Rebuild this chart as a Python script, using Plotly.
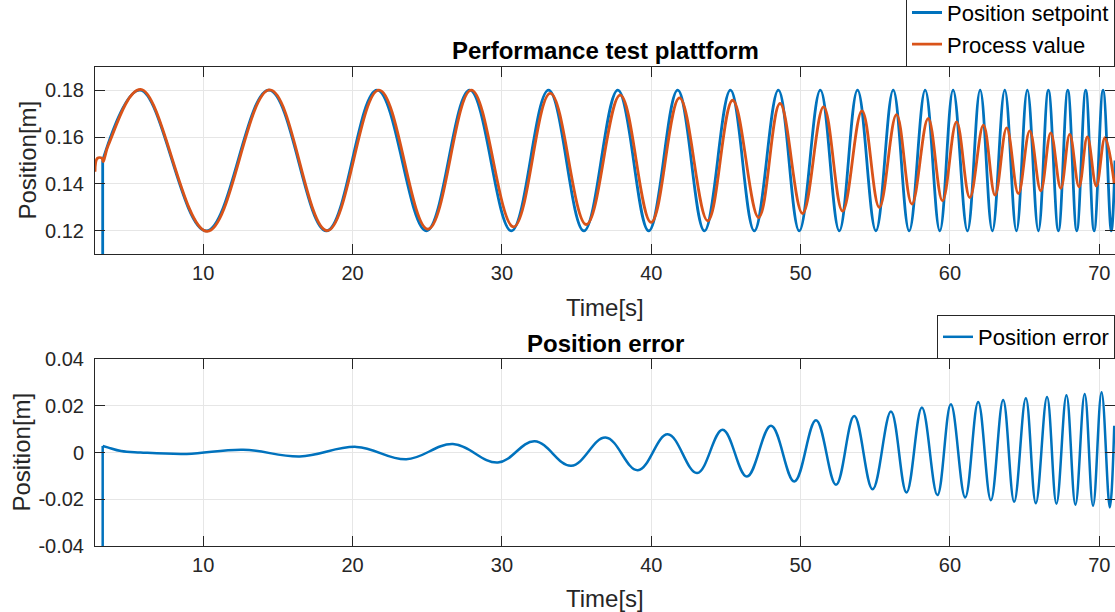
import plotly.graph_objects as go

# ---------------- data ----------------
# Position setpoint: start of the chirp, then alternating peaks / troughs
setpoint_t = [3.27, 5.77, 10.2, 14.4, 18.25, 21.64, 24.94, 27.84, 30.63, 33.12, 35.49,
              37.76, 39.83, 41.77, 43.56, 45.30, 46.9, 48.51, 49.91, 51.32, 52.59,
              53.81, 55.04, 56.2, 57.27, 58.34, 59.32, 60.21, 61.17, 62.02, 62.84,
              63.67, 64.45, 65.18, 65.92, 66.59, 67.26, 67.89, 68.49, 69.09, 69.65,
              70.25, 70.8, 71.05]
setpoint_v = [0.15, 0.18, 0.12, 0.18, 0.12, 0.18, 0.12, 0.18, 0.12, 0.18, 0.12,
              0.18, 0.12, 0.18, 0.12, 0.18, 0.12, 0.18, 0.12, 0.18, 0.12,
              0.18, 0.12, 0.18, 0.12, 0.18, 0.12, 0.18, 0.12, 0.18, 0.12,
              0.18, 0.12, 0.18, 0.12, 0.18, 0.12, 0.18, 0.12, 0.18, 0.12,
              0.18, 0.12, 0.15]
# setpoint step at start (from off-scale up to the chirp start)
setpoint_step_t = [2.755, 3.27, 3.27]
setpoint_step_v = [0.0, 0.0, 0.15]

# Process value
process_t = [2.755, 2.91, 3.22, 3.3, 3.65, 5.81, 10.27, 14.46, 18.3, 21.77, 25.05,
             27.95, 30.78, 33.24, 35.65, 37.92, 39.99, 41.89, 43.78, 45.45, 47.19,
             48.62, 50.13, 51.54, 52.81, 54.11, 55.27, 56.42, 57.45, 58.54, 59.5,
             60.44, 61.33, 62.24, 63.02, 63.8, 64.58, 65.34, 66.08, 66.75, 67.42,
             68.02, 68.64, 69.2, 69.8, 70.38, 71.0]
process_v = [0.1452, 0.1509, 0.151, 0.1495, 0.1566, 0.1803, 0.1198, 0.1801, 0.1201, 0.18, 0.1207,
             0.18, 0.1217, 0.1786, 0.1227, 0.1779, 0.1236, 0.1767, 0.1243, 0.1757, 0.1257,
             0.1743, 0.1274, 0.1729, 0.1284, 0.1712, 0.130, 0.1696, 0.1314, 0.1679, 0.1328,
             0.1665, 0.1342, 0.1651, 0.1352, 0.1639, 0.1359, 0.1626, 0.1371, 0.1618, 0.1381,
             0.1611, 0.1388, 0.1601, 0.1391, 0.1597, 0.1402]

# Position error
error_t = [3.27, 3.6, 4.5, 5.8, 8.9, 12.68, 16.47, 20.26, 23.6, 26.72, 29.73, 32.19,
           34.64, 36.94, 39.1, 41.1, 43.07, 44.78, 46.4, 48.02, 49.58, 51.03, 52.37,
           53.59, 54.82, 56.05, 57.09, 58.12, 59.16, 60.06, 61.02, 61.89, 62.74,
           63.56, 64.3, 65.08, 65.75, 66.5, 67.13, 67.8, 68.4, 69.02, 69.58, 70.15,
           70.7, 71.0]
error_v = [0.0028, 0.0022, 0.0006, 0.0, -0.0006, 0.0012, -0.0017, 0.0024, -0.0029, 0.0036,
           -0.0043, 0.0048, -0.0057, 0.0064, -0.0076, 0.0078, -0.0088, 0.0097, -0.0103,
           0.0114, -0.0124, 0.0138, -0.0138, 0.0156, -0.0157, 0.0175, -0.0171, 0.0192,
           -0.0182, 0.0206, -0.0192, 0.0216, -0.0204, 0.0225, -0.0211, 0.0232, -0.0217,
           0.0237, -0.0219, 0.0245, -0.0223, 0.025, -0.0228, 0.0258, -0.0235, 0.0114]
error_step_t = [2.755, 3.27, 3.27]
error_step_v = [-0.15, -0.15, 0.0028]

x_ticks = [10, 20, 30, 40, 50, 60, 70]
x_ticktext = ["10", "20", "30", "40", "50", "60", "70"]
y1_ticks = [0.12, 0.14, 0.16, 0.18]
y1_ticktext = ["0.12", "0.14", "0.16", "0.18"]
y2_ticks = [-0.04, -0.02, 0.0, 0.02, 0.04]
y2_ticktext = ["-0.04", "-0.02", "0", "0.02", "0.04"]

# ---------------- styling ----------------
W, H = 1115, 612
BLUE = "#0072BD"
ORANGE = "#D95319"
AX = "#262626"
GRID = "#e6e6e6"
FONT = "Liberation Sans, Arial, Helvetica, sans-serif"
LW = 2.8

def px_x(p):
    return p / W

def px_y(p):
    return 1 - p / H

fig = go.Figure()

# top plot
fig.add_trace(go.Scatter(x=setpoint_step_t, y=setpoint_step_v, mode="lines",
                         line=dict(color=BLUE, width=LW), showlegend=False,
                         hoverinfo="skip", xaxis="x", yaxis="y"))
fig.add_trace(go.Scatter(x=setpoint_t, y=setpoint_v, mode="lines", name="Position setpoint",
                         line=dict(color=BLUE, width=LW, shape="spline", smoothing=1.1),
                         xaxis="x", yaxis="y", legend="legend"))
fig.add_trace(go.Scatter(x=process_t, y=process_v, mode="lines", name="Process value",
                         line=dict(color=ORANGE, width=LW, shape="spline", smoothing=1.1),
                         xaxis="x", yaxis="y", legend="legend"))

# bottom plot
fig.add_trace(go.Scatter(x=error_step_t, y=error_step_v, mode="lines",
                         line=dict(color=BLUE, width=2.5), showlegend=False,
                         hoverinfo="skip", xaxis="x2", yaxis="y2"))
fig.add_trace(go.Scatter(x=error_t, y=error_v, mode="lines", name="Position error",
                         line=dict(color=BLUE, width=2.5, shape="spline", smoothing=1.1),
                         xaxis="x2", yaxis="y2", legend="legend2"))

axis_common = dict(showgrid=True, gridcolor=GRID, gridwidth=1, zeroline=False,
                   showline=True, linecolor=AX, linewidth=1, mirror="ticks",
                   ticks="inside", ticklen=10, tickcolor=AX, tickwidth=1,
                   tickfont=dict(family=FONT, size=20, color=AX), automargin=False)

x_dom = [px_x(95), 1.0]
x_range = [2.755, 71.05]

fig.update_layout(
    width=W, height=H,
    margin=dict(l=0, r=0, t=0, b=0, autoexpand=False),
    paper_bgcolor="white", plot_bgcolor="white",
    font=dict(family=FONT, color=AX),
    xaxis=dict(domain=x_dom, range=x_range, anchor="y", tickvals=x_ticks,
               ticktext=x_ticktext, ticklabelstandoff=1, **axis_common),
    yaxis=dict(domain=[px_y(254.3), px_y(66.7)], range=[0.11, 0.19], anchor="x",
               tickvals=y1_ticks, ticktext=y1_ticktext, ticklabelstandoff=6, **axis_common),
    xaxis2=dict(domain=x_dom, range=x_range, anchor="y2", tickvals=x_ticks,
                ticktext=x_ticktext, ticklabelstandoff=1, **axis_common),
    yaxis2=dict(domain=[px_y(546), px_y(359)], range=[-0.04, 0.04], anchor="x2",
                tickvals=y2_ticks, ticktext=y2_ticktext, ticklabelstandoff=6, **axis_common),
    legend=dict(x=1, xanchor="right", y=px_y(66.7), yanchor="bottom",
                bgcolor="white", bordercolor=AX, borderwidth=1,
                font=dict(family=FONT, size=22, color="#000000"),
                tracegroupgap=0),
    legend2=dict(x=1, xanchor="right", y=px_y(359), yanchor="bottom",
                 bgcolor="white", bordercolor=AX, borderwidth=1,
                 font=dict(family=FONT, size=22, color="#000000")),
    showlegend=True,
)

ann_font_title = dict(family=FONT, size=24, color="#000000")
ann_font_label = dict(family=FONT, size=24, color=AX)
cx = px_x((95 + 1116) / 2)
annotations = [
    dict(text="<b>Performance test plattform</b>", x=cx, y=px_y(50), font=ann_font_title),
    dict(text="<b>Position error</b>", x=cx, y=px_y(343), font=ann_font_title),
    dict(text="Time[s]", x=cx, y=px_y(307), font=ann_font_label),
    dict(text="Time[s]", x=cx, y=px_y(598), font=ann_font_label),
    dict(text="Position[m]", x=px_x(27), y=px_y(160.5), textangle=-90, font=ann_font_label),
    dict(text="Position[m]", x=px_x(21), y=px_y(452.5), textangle=-90, font=ann_font_label),
]
for a in annotations:
    fig.add_annotation(xref="paper", yref="paper", showarrow=False,
                       xanchor="center", yanchor="middle", **a)

fig.write_html("out.html",
               config={"displayModeBar": False},
               post_script="document.body.style.margin='0';"
                           "document.body.style.overflow='hidden';")
